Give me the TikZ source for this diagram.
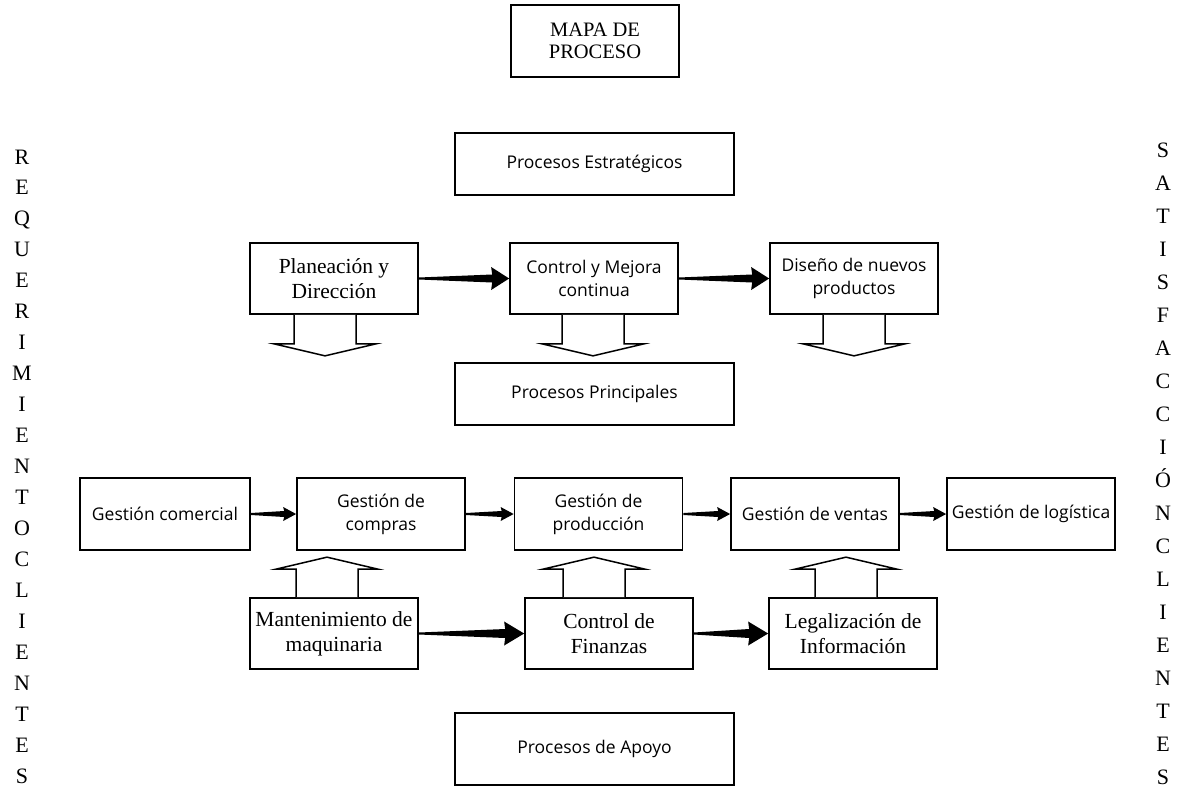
\documentclass[tikz,border=0pt]{standalone}
\usepackage{fontspec}
\setmainfont{Liberation Serif}
\newfontfamily\sansf{Open Sans}
\usetikzlibrary{calc}

% tapered black connector: from node #1 (east) to node #2 (west)
% #3 = half height of the head, #4 = head length, #5 = half width of the shaft near the head
\newcommand\taperarrow[5]{%
  \fill ($(#1.east)+(0,-1)$) -- ($(#2.west)+(-#4+1,-#5)$) -- ($(#2.west)+(-#4,-#3)$)
    -- (#2.west) -- ($(#2.west)+(-#4,#3)$) -- ($(#2.west)+(-#4+1,#5)$)
    -- ($(#1.east)+(0,1)$) -- cycle;}

% hollow block arrow pointing down, hanging from anchor #1 (shifted by #2)
\newcommand\hollowdown[2]{%
  \draw[blockarrow] ($(#1)+(#2-31,0)$) -- ++(0,29) -- ++(-20,0) -- ++(51,12)
    -- ++(51,-12) -- ++(-20,0) -- ++(0,-29);}
% hollow block arrow pointing up, standing on anchor #1 (shifted by #2)
\newcommand\hollowup[2]{%
  \draw[blockarrow] ($(#1)+(#2-31,0)$) -- ++(0,-28) -- ++(-20,0) -- ++(51,-12)
    -- ++(51,12) -- ++(-20,0) -- ++(0,28);}

\tikzset{
  box/.style={draw, line width=1.7pt, minimum width=168pt, minimum height=71pt,
    inner sep=2pt, align=center},
  serifbox/.style={box, font=\fontsize{21.5}{25}\selectfont},
  sansbox/.style={box, font=\sansf\fontsize{17.5}{23}\selectfont},
  wide/.style={minimum width=279pt},
  blockarrow/.style={line width=1.5pt, fill=white, line join=miter},
  letter/.style={font=\fontsize{22}{22}\selectfont, inner sep=0pt, anchor=base},
}

\begin{document}
\begin{tikzpicture}[x=1pt, y=-1pt]
\useasboundingbox (0,0) rectangle (1189,788);

% title and section headings
\node[box, font=\fontsize{20.5}{22}\selectfont, minimum height=72pt] (mapa) at (595,41) {MAPA DE\\PROCESO};
\node[sansbox, wide, minimum height=62pt] (estrat) at (594.5,164) {Procesos Estratégicos};
\node[sansbox, wide, minimum height=62pt] (princ) at (594.5,394) {Procesos Principales};
\node[sansbox, wide, minimum height=72pt] (apoyo) at (594.5,749) {Procesos de Apoyo};

% strategic processes
\node[serifbox] (plan) at (334,278.5) {Planeación y\\Dirección};
\node[sansbox] (mejora) at (594,278.5) {Control y Mejora\\continua};
\node[sansbox] (diseno) at (854,278.5) {Diseño de nuevos\\productos};

% main processes
\node[sansbox, minimum width=170pt, minimum height=72pt] (comercial) at (165,514) {Gestión comercial};
\node[sansbox, minimum height=72pt] (compras) at (381,514) {Gestión de\\compras};
\node[sansbox, minimum height=72pt] (produccion) at (598.5,514) {Gestión de\\producción};
\node[sansbox, minimum height=72pt] (ventas) at (815,514) {Gestión de ventas};
\node[sansbox, minimum height=72pt] (logistica) at (1031,514) {Gestión de logística};

% support processes
\node[serifbox] (mant) at (334,633.5) {Mantenimiento de\\maquinaria};
\node[serifbox] (finanzas) at (609,633.5) {Control de\\Finanzas};
\node[serifbox] (legal) at (853,633.5) {Legalización de\\Información};

% black connectors
\taperarrow{plan}{mejora}{11.5}{18}{4}
\taperarrow{mejora}{diseno}{11.5}{18}{4}
\taperarrow{comercial}{compras}{7}{13}{3}
\taperarrow{compras}{produccion}{7}{13}{3}
\taperarrow{produccion}{ventas}{7}{13}{3}
\taperarrow{ventas}{logistica}{7}{13}{3}
\taperarrow{mant}{finanzas}{12}{20}{4.5}
\taperarrow{finanzas}{legal}{12}{20}{4.5}

% hollow block arrows
\hollowdown{plan.south}{-9}
\hollowdown{mejora.south}{-1}
\hollowdown{diseno.south}{0}
\hollowup{mant.north}{-7}
\hollowup{finanzas.north}{-15}
\hollowup{legal.north}{-7}

% vertical side captions
\foreach \ch [count=\i from 0] in {R,E,Q,U,E,R,I,M,I,E,N,T,O,C,L,I,E,N,T,E,S}
  \node[letter] (izq\i) at (22,{164+30.95*\i}) {\ch};
\foreach \ch [count=\i from 0] in {S,A,T,I,S,F,A,C,C,I,Ó,N,C,L,I,E,N,T,E,S}
  \node[letter] (der\i) at (1163,{157+33.05*\i}) {\ch};
\end{tikzpicture}
\end{document}
